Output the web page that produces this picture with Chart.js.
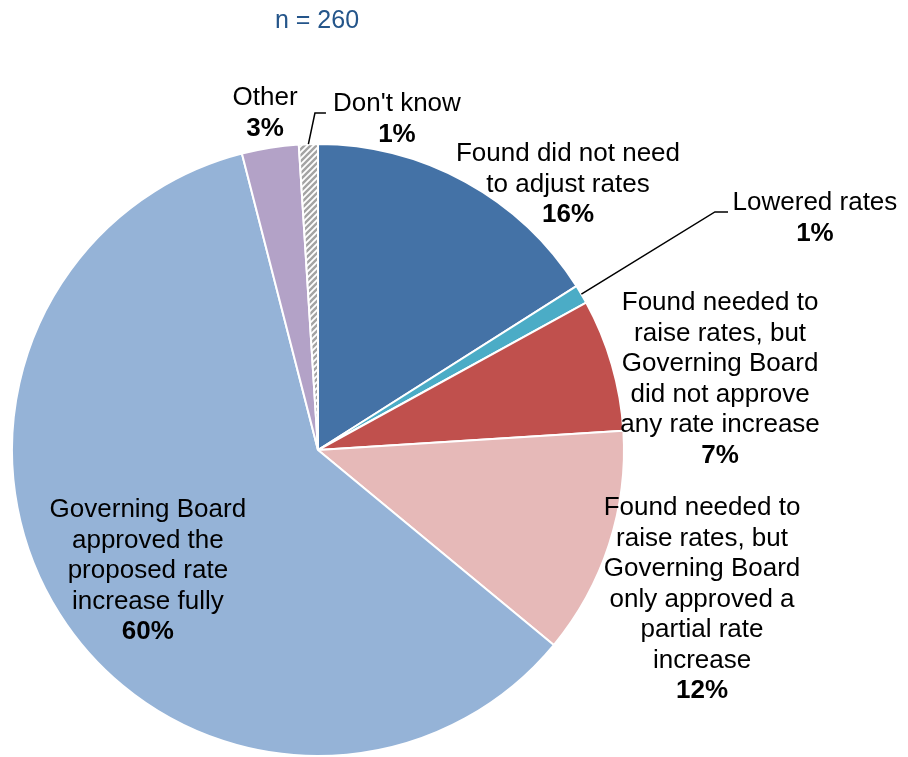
<!DOCTYPE html>
<html>
<head>
<meta charset="utf-8">
<title>Rate adjustment outcomes</title>
<script src="https://cdn.jsdelivr.net/npm/chart.js@4.4.0/dist/chart.umd.min.js"></script>
<style>
  html, body { margin: 0; padding: 0; background: #fff; }
  #wrap { width: 908px; height: 757px; }
</style>
</head>
<body>
<div id="wrap"><canvas id="pie" width="908" height="757"></canvas></div>
<script>
// Survey responses (n = 260), clockwise from 12 o'clock
const sampleNote = 'n = 260';
const categories = [
  ['Found did not need', 'to adjust rates'],
  ['Lowered rates'],
  ['Found needed to', 'raise rates, but', 'Governing Board', 'did not approve', 'any rate increase'],
  ['Found needed to', 'raise rates, but', 'Governing Board', 'only approved a', 'partial rate', 'increase'],
  ['Governing Board', 'approved the', 'proposed rate', 'increase fully'],
  ['Other'],
  ["Don't know"]
];
const shares = [16, 1, 7, 12, 60, 3, 1];

const sliceColors = ['#4472A6', '#4BACC6', '#C0504D', '#E6B9B8', '#95B3D7', '#B3A2C7', null];

// label anchors, in units of the pie radius from its centre (x, y of first line)
const labelSpots = [
  [0.817, -0.967],
  [1.624, -0.807],
  [1.314, -0.480],
  [1.255, 0.190],
  [-0.556, 0.196],
  [-0.173, -1.150],
  [0.258, -1.131]
];
// leader lines: elbow and end point, same units
const leaders = {
  1: [[1.297, -0.778], [1.340, -0.778]],
  6: [[-0.010, -1.101], [0.026, -1.101]]
};

const FONT = '"Liberation Sans", Arial, sans-serif';
const LINE_H = 30.5;

const canvas = document.getElementById('pie');
const ctx = canvas.getContext('2d');

// grey diagonal hatch for "Don't know"
function makeHatch() {
  const s = 6;
  const tile = document.createElement('canvas');
  tile.width = s; tile.height = s;
  const t = tile.getContext('2d');
  t.fillStyle = '#ffffff';
  t.fillRect(0, 0, s, s);
  t.strokeStyle = '#a4a4a4';
  t.lineWidth = 2.4;
  t.beginPath();
  t.moveTo(0, s); t.lineTo(s, 0);
  t.moveTo(-s / 2, s / 2); t.lineTo(s / 2, -s / 2);
  t.moveTo(s / 2, s * 1.5); t.lineTo(s * 1.5, s / 2);
  t.stroke();
  return ctx.createPattern(tile, 'repeat');
}
const fills = sliceColors.map(c => c || makeHatch());

const sliceLabels = {
  id: 'sliceLabels',
  afterDraw(chart) {
    const c = chart.ctx;
    const arcs = chart.getDatasetMeta(0).data;
    const cx = arcs[0].x, cy = arcs[0].y, R = arcs[0].outerRadius;

    c.save();

    // sample size above the pie
    c.fillStyle = '#24558A';
    c.font = '25px ' + FONT;
    c.textAlign = 'center';
    c.textBaseline = 'middle';
    c.fillText(sampleNote, cx - 1, 21);

    // leader lines
    c.strokeStyle = '#000';
    c.lineWidth = 1.5;
    Object.keys(leaders).forEach(k => {
      const arc = arcs[k];
      const mid = (arc.startAngle + arc.endAngle) / 2;
      const pts = leaders[k];
      c.beginPath();
      c.moveTo(cx + Math.cos(mid) * R, cy + Math.sin(mid) * R);
      pts.forEach(p => c.lineTo(cx + p[0] * R, cy + p[1] * R));
      c.stroke();
    });

    // category text plus bold share
    c.fillStyle = '#000';
    categories.forEach((lines, i) => {
      const x = cx + labelSpots[i][0] * R;
      let y = cy + labelSpots[i][1] * R;
      c.font = '26px ' + FONT;
      lines.forEach(line => {
        c.fillText(line, x, y);
        y += LINE_H;
      });
      c.font = 'bold 26px ' + FONT;
      c.fillText(shares[i] + '%', x, y);
    });

    c.restore();
  }
};

new Chart(ctx, {
  type: 'pie',
  data: {
    labels: categories,
    datasets: [{
      data: shares,
      backgroundColor: fills,
      borderColor: '#ffffff',
      borderWidth: 2
    }]
  },
  options: {
    responsive: false,
    animation: false,
    layout: {
      padding: { left: 11, right: 283, top: 143, bottom: 0 }
    },
    plugins: {
      legend: { display: false },
      tooltip: { enabled: false }
    }
  },
  plugins: [sliceLabels]
});
</script>
</body>
</html>
